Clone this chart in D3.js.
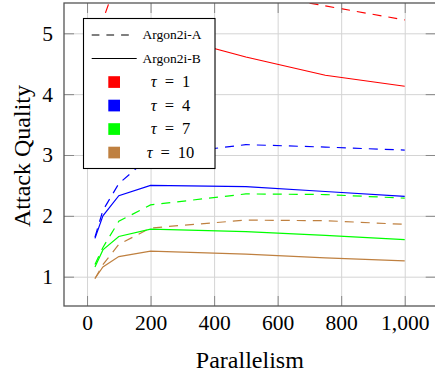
<!DOCTYPE html>
<html><head><meta charset="utf-8">
<script src="https://cdn.jsdelivr.net/npm/d3@7"></script>
<style>
body{margin:0;background:#fff;}
svg{display:block;font-family:"Liberation Serif","Times New Roman",serif;}
</style></head>
<body>
<svg id="c" width="435" height="379"></svg>
<script>
// ---- data ----
const parallelism = [25, 50, 100, 200, 500, 750, 1000];
const taus = [1, 4, 7, 10];
const tauColors = ["#ff0000", "#0000ff", "#00ff00", "#bf8040"];
// Argon2i-A (dashed)
const argonA_t1  = [4.30, 5.22, 5.95, 6.20, 5.68, 5.45, 5.22];
const argonA_t4  = [1.65, 2.09, 2.53, 2.98, 3.17, 3.13, 3.08];
const argonA_t7  = [1.20, 1.48, 1.91, 2.18, 2.36, 2.35, 2.29];
const argonA_t10 = [0.97, 1.20, 1.53, 1.80, 1.93, 1.92, 1.86];
// Argon2i-B (solid)
const argonB_t1  = [3.40, 4.00, 4.60, 5.03, 4.61, 4.31, 4.13];
const argonB_t4  = [1.63, 2.00, 2.33, 2.50, 2.48, 2.40, 2.32];
const argonB_t7  = [1.16, 1.44, 1.66, 1.78, 1.74, 1.68, 1.61];
const argonB_t10 = [0.97, 1.16, 1.33, 1.42, 1.37, 1.31, 1.26];
const xTicks = [0, 200, 400, 600, 800, 1000];
const yTicks = [1, 2, 3, 4, 5];
const xTitle = "Parallelism";
const yTitle = "Attack Quality";
const legendVariants = ["Argon2i-A", "Argon2i-B"];

const seriesA = [argonA_t1, argonA_t4, argonA_t7, argonA_t10];
const seriesB = [argonB_t1, argonB_t4, argonB_t7, argonB_t10];

// ---- layout ----
const L = 64, R = 435.7, T = 3, B = 306;
const FONT = "Liberation Serif";
const svg = d3.select("#c");
const x = d3.scaleLinear().domain([-72.5, 1097.5]).range([L, R]);
const y = d3.scaleLinear().domain([0.518, 5.498]).range([B, T]);

// grid
svg.append("g").attr("transform", `translate(0,${B})`)
  .call(d3.axisBottom(x).tickValues(xTicks).tickSize(-(B - T)).tickFormat(""))
  .call(g => { g.select(".domain").remove(); g.selectAll("line").attr("stroke", "#d4d4d4").attr("stroke-width", 1); });
svg.append("g").attr("transform", `translate(${L},0)`)
  .call(d3.axisLeft(y).tickValues(yTicks).tickSize(-(R - L)).tickFormat(""))
  .call(g => { g.select(".domain").remove(); g.selectAll("line").attr("stroke", "#d4d4d4").attr("stroke-width", 1); });

// lines
const defs = svg.append("defs");
defs.append("clipPath").attr("id", "clip").append("rect")
  .attr("x", L).attr("y", T).attr("width", R - L).attr("height", B - T);
const line = d3.line().x((d, i) => x(parallelism[i])).y(d => y(d));
const plot = svg.append("g").attr("clip-path", "url(#clip)");
seriesA.forEach((s, k) => {
  plot.append("path").attr("d", line(s)).attr("fill", "none")
    .attr("stroke", tauColors[k]).attr("stroke-width", 1.2).attr("stroke-dasharray", "9,7");
});
seriesB.forEach((s, k) => {
  plot.append("path").attr("d", line(s)).attr("fill", "none")
    .attr("stroke", tauColors[k]).attr("stroke-width", 1.2);
});

// axes with inward ticks
const tickStyle = g => { g.select(".domain").remove(); g.selectAll("line").attr("stroke", "#888").attr("stroke-width", 1); };
const bx = svg.append("g").attr("transform", `translate(0,${B})`)
  .call(d3.axisBottom(x).tickValues(xTicks).tickSize(-10).tickPadding(9).tickFormat(d3.format(",")))
  .call(tickStyle);
bx.attr("font-family", FONT);
bx.selectAll("text").attr("font-size", 21.5).attr("fill", "#000");
svg.append("g").attr("transform", `translate(0,${T})`)
  .call(d3.axisTop(x).tickValues(xTicks).tickSize(-10).tickFormat("")).call(tickStyle);
const ly = svg.append("g").attr("transform", `translate(${L},0)`)
  .call(d3.axisLeft(y).tickValues(yTicks).tickSize(-10).tickPadding(11).tickFormat(d3.format("d")))
  .call(tickStyle);
ly.attr("font-family", FONT);
ly.selectAll("text").attr("font-size", 21.5).attr("fill", "#000");
svg.append("g").attr("transform", `translate(${R},0)`)
  .call(d3.axisRight(y).tickValues(yTicks).tickSize(-10).tickFormat("")).call(tickStyle);

// frame
svg.append("rect").attr("x", L).attr("y", T).attr("width", R - L).attr("height", B - T)
  .attr("fill", "none").attr("stroke", "#555").attr("stroke-width", 1.3);

// titles
svg.append("text").attr("x", (L + R) / 2).attr("y", 367.5).attr("text-anchor", "middle")
  .attr("font-size", 24).text(xTitle);
svg.append("text").attr("transform", "translate(29.5,156) rotate(-90)").attr("text-anchor", "middle")
  .attr("font-size", 24).text(yTitle);

// legend
const lg = svg.append("g");
lg.append("rect").attr("x", 83.5).attr("y", 18.5).attr("width", 131.5).attr("height", 150)
  .attr("fill", "#fff").attr("stroke", "#000").attr("stroke-width", 1.1);
const rowY = [35, 58.5, 82, 105.5, 129, 152.5];
lg.append("line").attr("x1", 91.7).attr("x2", 131.7).attr("y1", rowY[0]).attr("y2", rowY[0])
  .attr("stroke", "#000").attr("stroke-width", 1.1).attr("stroke-dasharray", "7.7,7");
lg.append("line").attr("x1", 91.7).attr("x2", 136.7).attr("y1", rowY[1]).attr("y2", rowY[1])
  .attr("stroke", "#000").attr("stroke-width", 1.1);
legendVariants.forEach((t, i) => {
  lg.append("text").attr("x", 142.5).attr("y", rowY[i]).attr("dy", "0.33em")
    .attr("font-size", 13.5).text(t);
});
taus.forEach((t, i) => {
  const yy = rowY[i + 2];
  lg.append("rect").attr("x", 108.3).attr("y", yy - 5.8).attr("width", 11.7).attr("height", 11.7)
    .attr("fill", tauColors[i]);
  const tx = lg.append("text").attr("x", 170.5).attr("y", yy).attr("dy", "0.33em")
    .attr("text-anchor", "middle").attr("font-size", 16.5);
  tx.append("tspan").attr("font-style", "italic").text("τ");
  tx.append("tspan").attr("dx", 8).text("=");
  tx.append("tspan").attr("dx", 8).text(String(t));
});
</script>
</body></html>
